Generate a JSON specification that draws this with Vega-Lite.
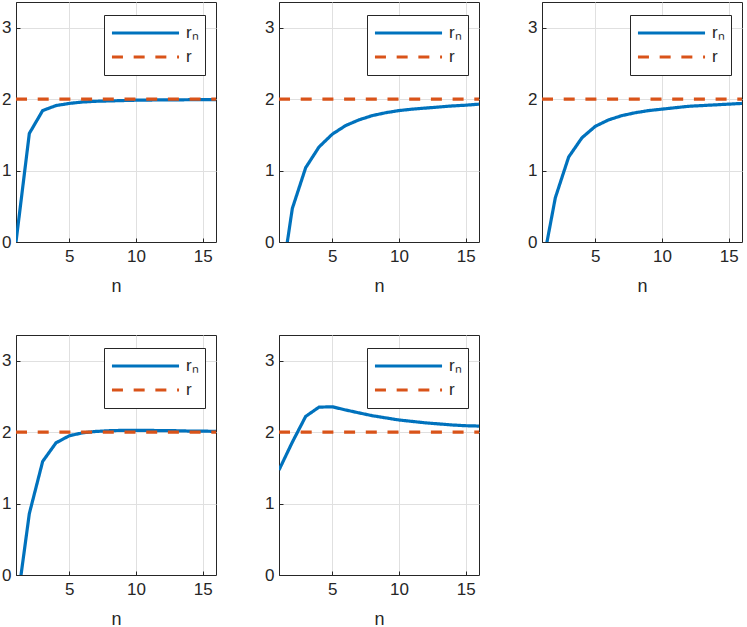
{
  "$schema": "https://vega.github.io/schema/vega-lite/v6.json",
  "padding": {"left": 1, "top": 1, "right": 0, "bottom": 0},
  "background": "white",
  "data": {"values": [
    {"p":1,"s":"rₙ","n":1,"v":0},{"p":1,"s":"rₙ","n":2,"v":1.52},{"p":1,"s":"rₙ","n":3,"v":1.84},{"p":1,"s":"rₙ","n":4,"v":1.91},
    {"p":1,"s":"rₙ","n":5,"v":1.94},{"p":1,"s":"rₙ","n":6,"v":1.96},{"p":1,"s":"rₙ","n":7,"v":1.97},{"p":1,"s":"rₙ","n":8,"v":1.975},
    {"p":1,"s":"rₙ","n":9,"v":1.98},{"p":1,"s":"rₙ","n":10,"v":1.985},{"p":1,"s":"rₙ","n":11,"v":1.987},{"p":1,"s":"rₙ","n":12,"v":1.99},
    {"p":1,"s":"rₙ","n":13,"v":1.99},{"p":1,"s":"rₙ","n":14,"v":1.992},{"p":1,"s":"rₙ","n":15,"v":1.993},{"p":1,"s":"rₙ","n":16,"v":1.994},
    {"p":1,"s":"r","n":1,"v":2},{"p":1,"s":"r","n":16,"v":2},

    {"p":2,"s":"rₙ","n":1,"v":-0.78},{"p":2,"s":"rₙ","n":2,"v":0.47},{"p":2,"s":"rₙ","n":3,"v":1.04},{"p":2,"s":"rₙ","n":4,"v":1.33},
    {"p":2,"s":"rₙ","n":5,"v":1.51},{"p":2,"s":"rₙ","n":6,"v":1.63},{"p":2,"s":"rₙ","n":7,"v":1.71},{"p":2,"s":"rₙ","n":8,"v":1.77},
    {"p":2,"s":"rₙ","n":9,"v":1.81},{"p":2,"s":"rₙ","n":10,"v":1.84},{"p":2,"s":"rₙ","n":11,"v":1.86},{"p":2,"s":"rₙ","n":12,"v":1.875},
    {"p":2,"s":"rₙ","n":13,"v":1.89},{"p":2,"s":"rₙ","n":14,"v":1.905},{"p":2,"s":"rₙ","n":15,"v":1.915},{"p":2,"s":"rₙ","n":16,"v":1.93},
    {"p":2,"s":"r","n":1,"v":2},{"p":2,"s":"r","n":16,"v":2},

    {"p":3,"s":"rₙ","n":1,"v":-0.37},{"p":3,"s":"rₙ","n":2,"v":0.62},{"p":3,"s":"rₙ","n":3,"v":1.19},{"p":3,"s":"rₙ","n":4,"v":1.46},
    {"p":3,"s":"rₙ","n":5,"v":1.62},{"p":3,"s":"rₙ","n":6,"v":1.71},{"p":3,"s":"rₙ","n":7,"v":1.77},{"p":3,"s":"rₙ","n":8,"v":1.81},
    {"p":3,"s":"rₙ","n":9,"v":1.84},{"p":3,"s":"rₙ","n":10,"v":1.86},{"p":3,"s":"rₙ","n":11,"v":1.88},{"p":3,"s":"rₙ","n":12,"v":1.90},
    {"p":3,"s":"rₙ","n":13,"v":1.91},{"p":3,"s":"rₙ","n":14,"v":1.92},{"p":3,"s":"rₙ","n":15,"v":1.93},{"p":3,"s":"rₙ","n":16,"v":1.94},
    {"p":3,"s":"r","n":1,"v":2},{"p":3,"s":"r","n":16,"v":2},

    {"p":4,"s":"rₙ","n":1,"v":-0.52},{"p":4,"s":"rₙ","n":2,"v":0.86},{"p":4,"s":"rₙ","n":3,"v":1.59},{"p":4,"s":"rₙ","n":4,"v":1.85},
    {"p":4,"s":"rₙ","n":5,"v":1.95},{"p":4,"s":"rₙ","n":6,"v":1.99},{"p":4,"s":"rₙ","n":7,"v":2.01},{"p":4,"s":"rₙ","n":8,"v":2.02},
    {"p":4,"s":"rₙ","n":9,"v":2.025},{"p":4,"s":"rₙ","n":10,"v":2.025},{"p":4,"s":"rₙ","n":11,"v":2.025},{"p":4,"s":"rₙ","n":12,"v":2.02},
    {"p":4,"s":"rₙ","n":13,"v":2.02},{"p":4,"s":"rₙ","n":14,"v":2.015},{"p":4,"s":"rₙ","n":15,"v":2.015},{"p":4,"s":"rₙ","n":16,"v":2.01},
    {"p":4,"s":"r","n":1,"v":2},{"p":4,"s":"r","n":16,"v":2},

    {"p":5,"s":"rₙ","n":1,"v":1.47},{"p":5,"s":"rₙ","n":2,"v":1.86},{"p":5,"s":"rₙ","n":3,"v":2.22},{"p":5,"s":"rₙ","n":4,"v":2.35},
    {"p":5,"s":"rₙ","n":5,"v":2.355},{"p":5,"s":"rₙ","n":6,"v":2.31},{"p":5,"s":"rₙ","n":7,"v":2.27},{"p":5,"s":"rₙ","n":8,"v":2.23},
    {"p":5,"s":"rₙ","n":9,"v":2.2},{"p":5,"s":"rₙ","n":10,"v":2.17},{"p":5,"s":"rₙ","n":11,"v":2.15},{"p":5,"s":"rₙ","n":12,"v":2.13},
    {"p":5,"s":"rₙ","n":13,"v":2.115},{"p":5,"s":"rₙ","n":14,"v":2.1},{"p":5,"s":"rₙ","n":15,"v":2.09},{"p":5,"s":"rₙ","n":16,"v":2.085},
    {"p":5,"s":"r","n":1,"v":2},{"p":5,"s":"r","n":16,"v":2}
  ]},
  "columns": 3,
  "bounds": "flush",
  "spacing": {"row": 93, "column": 63},
  "resolve": {
    "scale": {"color": "independent", "strokeDash": "independent"},
    "legend": {"color": "independent", "strokeDash": "independent"}
  },
  "concat": [
    {"width": 200, "height": 240, "transform": [{"filter": "datum.p == 1"}],
     "mark": {"type": "line", "clip": true, "strokeWidth": 3.2},
     "encoding": {
       "x": {"field": "n", "type": "quantitative", "scale": {"domain": [1, 16], "nice": false}, "axis": {"values": [5, 10, 15], "title": "n"}},
       "y": {"field": "v", "type": "quantitative", "scale": {"domain": [0, 3.36], "nice": false}, "axis": {"values": [0, 1, 2, 3], "title": null}},
       "color": {"field": "s", "type": "nominal", "scale": {"domain": ["rₙ", "r"], "range": ["#0072BD", "#D95319"]}, "legend": {"title": null}},
       "strokeDash": {"field": "s", "type": "nominal", "scale": {"domain": ["rₙ", "r"], "range": [[1, 0], [11, 10.7]]}, "legend": {"title": null}}
     }},
    {"width": 200, "height": 240, "transform": [{"filter": "datum.p == 2"}],
     "mark": {"type": "line", "clip": true, "strokeWidth": 3.2},
     "encoding": {
       "x": {"field": "n", "type": "quantitative", "scale": {"domain": [1, 16], "nice": false}, "axis": {"values": [5, 10, 15], "title": "n"}},
       "y": {"field": "v", "type": "quantitative", "scale": {"domain": [0, 3.36], "nice": false}, "axis": {"values": [0, 1, 2, 3], "title": null}},
       "color": {"field": "s", "type": "nominal", "scale": {"domain": ["rₙ", "r"], "range": ["#0072BD", "#D95319"]}, "legend": {"title": null}},
       "strokeDash": {"field": "s", "type": "nominal", "scale": {"domain": ["rₙ", "r"], "range": [[1, 0], [11, 10.7]]}, "legend": {"title": null}}
     }},
    {"width": 200, "height": 240, "transform": [{"filter": "datum.p == 3"}],
     "mark": {"type": "line", "clip": true, "strokeWidth": 3.2},
     "encoding": {
       "x": {"field": "n", "type": "quantitative", "scale": {"domain": [1, 16], "nice": false}, "axis": {"values": [5, 10, 15], "title": "n"}},
       "y": {"field": "v", "type": "quantitative", "scale": {"domain": [0, 3.36], "nice": false}, "axis": {"values": [0, 1, 2, 3], "title": null}},
       "color": {"field": "s", "type": "nominal", "scale": {"domain": ["rₙ", "r"], "range": ["#0072BD", "#D95319"]}, "legend": {"title": null}},
       "strokeDash": {"field": "s", "type": "nominal", "scale": {"domain": ["rₙ", "r"], "range": [[1, 0], [11, 10.7]]}, "legend": {"title": null}}
     }},
    {"width": 200, "height": 240, "transform": [{"filter": "datum.p == 4"}],
     "mark": {"type": "line", "clip": true, "strokeWidth": 3.2},
     "encoding": {
       "x": {"field": "n", "type": "quantitative", "scale": {"domain": [1, 16], "nice": false}, "axis": {"values": [5, 10, 15], "title": "n"}},
       "y": {"field": "v", "type": "quantitative", "scale": {"domain": [0, 3.36], "nice": false}, "axis": {"values": [0, 1, 2, 3], "title": null}},
       "color": {"field": "s", "type": "nominal", "scale": {"domain": ["rₙ", "r"], "range": ["#0072BD", "#D95319"]}, "legend": {"title": null}},
       "strokeDash": {"field": "s", "type": "nominal", "scale": {"domain": ["rₙ", "r"], "range": [[1, 0], [11, 10.7]]}, "legend": {"title": null}}
     }},
    {"width": 200, "height": 240, "transform": [{"filter": "datum.p == 5"}],
     "mark": {"type": "line", "clip": true, "strokeWidth": 3.2},
     "encoding": {
       "x": {"field": "n", "type": "quantitative", "scale": {"domain": [1, 16], "nice": false}, "axis": {"values": [5, 10, 15], "title": "n"}},
       "y": {"field": "v", "type": "quantitative", "scale": {"domain": [0, 3.36], "nice": false}, "axis": {"values": [0, 1, 2, 3], "title": null}},
       "color": {"field": "s", "type": "nominal", "scale": {"domain": ["rₙ", "r"], "range": ["#0072BD", "#D95319"]}, "legend": {"title": null}},
       "strokeDash": {"field": "s", "type": "nominal", "scale": {"domain": ["rₙ", "r"], "range": [[1, 0], [11, 10.7]]}, "legend": {"title": null}}
     }}
  ],
  "config": {
    "view": {"stroke": "#262626", "strokeWidth": 1},
    "axis": {
      "labelFont": "Liberation Sans", "labelFontSize": 17, "labelColor": "#262626",
      "titleFont": "Liberation Sans", "titleFontSize": 18, "titleFontWeight": "normal", "titleColor": "#262626",
      "domainColor": "#262626", "tickColor": "#262626", "tickSize": -4, "labelPadding": 10,
      "gridColor": "#e0e0e0", "grid": true, "titlePadding": 13
    },
    "axisY": {"labelPadding": 9},
    "legend": {
      "orient": "none", "legendX": 88, "legendY": 13,
      "strokeColor": "#262626", "fillColor": "white", "padding": 6,
      "symbolType": "stroke", "symbolSize": 4500, "symbolStrokeWidth": 3,
      "labelFont": "Liberation Sans", "labelFontSize": 17, "labelColor": "#262626",
      "clipHeight": 24, "rowPadding": 0, "labelOffset": 5
    }
  }
}
